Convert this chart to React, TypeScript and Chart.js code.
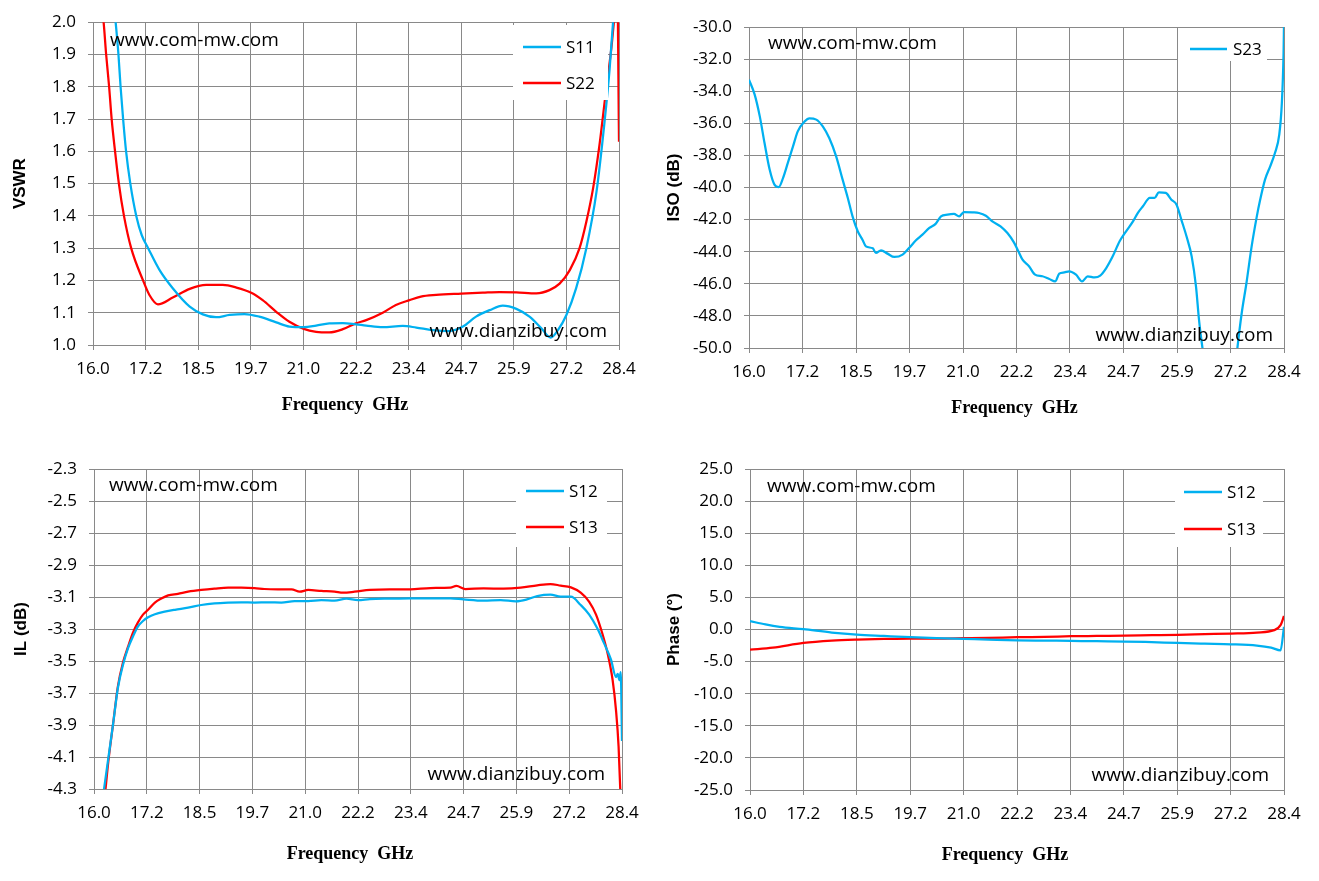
import { useEffect, useRef } from "react";
import { Chart, registerables } from "chart.js";

Chart.register(...registerables);

// Colours
const BLUE = "#00b0f0";
const RED = "#ff0000";
const GRID = "#898989";

const TICK_FONT = { family: "'Open Sans', 'Noto Sans', sans-serif", size: 17 };
const Y_TITLE_FONT = { family: "'Liberation Sans', Arial, sans-serif", size: 17, weight: "bold" as const };
const X_TITLE_FONT = "bold 18px 'Liberation Serif', 'DejaVu Serif', serif";
const MARK_FONT = "19px 'Open Sans', 'Noto Sans', sans-serif";
const LEGEND_FONT = "17px 'Open Sans', 'Noto Sans', sans-serif";

// Shared frequency axis (GHz): 16.0 .. 28.4 in ten steps
const X_MIN = 16;
const X_MAX = 28.4;
const X_STEP = 1.24;
const X_TICK_LABELS = ["16.0", "17.2", "18.5", "19.7", "21.0", "22.2", "23.4", "24.7", "25.9", "27.2", "28.4"];
const X_TITLE = "Frequency  GHz";

// ---- VSWR ----
const S11_FREQ = [16.52, 16.6, 16.65, 16.71, 16.78, 16.88, 17.02, 17.15, 17.3, 17.57, 17.88, 18.28, 18.59, 18.9, 19.22, 19.57, 19.92, 20.32, 20.63, 20.97, 21.26, 21.57, 21.89, 22.2, 22.44, 22.83, 23.3, 23.62, 24.01, 24.4, 24.72, 25.03, 25.35, 25.66, 25.98, 26.29, 26.57, 26.79, 26.96, 27.16, 27.39, 27.63, 27.87, 28.06, 28.18, 28.26, 28.3];
const S11_VSWR = [2.02, 1.9, 1.8, 1.7, 1.6, 1.5, 1.4, 1.34, 1.3, 1.232, 1.176, 1.119, 1.095, 1.086, 1.093, 1.096, 1.088, 1.07, 1.057, 1.055, 1.06, 1.067, 1.068, 1.064, 1.06, 1.055, 1.059, 1.054, 1.046, 1.043, 1.057, 1.088, 1.108, 1.122, 1.112, 1.088, 1.052, 1.023, 1.046, 1.093, 1.176, 1.3, 1.475, 1.692, 1.857, 2.0, 2.08];

const S22_FREQ = [16.22, 16.25, 16.31, 16.38, 16.44, 16.52, 16.61, 16.73, 16.9, 17.18, 17.33, 17.53, 17.88, 18.28, 18.67, 19.06, 19.38, 19.73, 20.0, 20.32, 20.63, 20.97, 21.26, 21.57, 21.89, 22.2, 22.44, 22.83, 23.14, 23.46, 23.73, 24.09, 24.68, 25.19, 25.58, 25.98, 26.45, 26.76, 27.0, 27.24, 27.47, 27.63, 27.79, 27.94, 28.1, 28.22, 28.28, 28.36, 28.4];
const S22_VSWR = [2.03, 2.0, 1.9, 1.8, 1.7, 1.6, 1.5, 1.4, 1.3, 1.2, 1.155, 1.126, 1.147, 1.174, 1.186, 1.186, 1.178, 1.162, 1.139, 1.103, 1.072, 1.05, 1.041, 1.039, 1.049, 1.067, 1.077, 1.1, 1.124, 1.139, 1.15, 1.155, 1.159, 1.162, 1.164, 1.163, 1.16, 1.17, 1.19, 1.232, 1.3, 1.382, 1.486, 1.62, 1.795, 1.92, 2.0, 2.1, 1.63];

// ---- Isolation ----
const S23_FREQ = [16.0, 16.13, 16.25, 16.36, 16.48, 16.59, 16.69, 16.79, 16.9, 17.02, 17.13, 17.29, 17.4, 17.56, 17.71, 17.86, 18.02, 18.17, 18.29, 18.4, 18.52, 18.63, 18.71, 18.87, 18.94, 19.06, 19.21, 19.37, 19.56, 19.71, 19.87, 20.02, 20.18, 20.33, 20.45, 20.6, 20.75, 20.87, 20.98, 21.18, 21.33, 21.49, 21.64, 21.83, 21.99, 22.14, 22.24, 22.34, 22.49, 22.63, 22.8, 22.96, 23.1, 23.19, 23.31, 23.42, 23.58, 23.72, 23.85, 24.01, 24.14, 24.28, 24.43, 24.59, 24.74, 24.9, 25.01, 25.13, 25.29, 25.4, 25.5, 25.66, 25.79, 25.91, 26.02, 26.14, 26.26, 26.36, 26.43, 26.51, 26.6, 27.25, 27.32, 27.42, 27.53, 27.65, 27.77, 27.84, 27.96, 28.08, 28.19, 28.29, 28.35, 28.39, 28.4];
const S23_ISO = [-33.28, -34.2, -35.57, -37.23, -38.9, -39.82, -39.97, -39.4, -38.47, -37.44, -36.5, -35.88, -35.69, -35.77, -36.19, -36.92, -38.06, -39.51, -40.65, -41.8, -42.73, -43.25, -43.67, -43.79, -44.08, -43.91, -44.12, -44.33, -44.18, -43.77, -43.29, -42.94, -42.52, -42.25, -41.8, -41.69, -41.65, -41.8, -41.53, -41.55, -41.59, -41.76, -42.11, -42.42, -42.84, -43.42, -43.95, -44.5, -44.91, -45.43, -45.53, -45.7, -45.85, -45.37, -45.29, -45.22, -45.43, -45.85, -45.53, -45.6, -45.49, -45.02, -44.29, -43.35, -42.73, -42.11, -41.59, -41.17, -40.65, -40.65, -40.3, -40.34, -40.76, -41.07, -42.0, -43.04, -44.29, -46.16, -48.24, -50.0, -51.8, -51.8, -50.0, -47.82, -45.95, -43.67, -41.8, -40.86, -39.51, -38.68, -37.85, -36.71, -34.74, -31.62, -29.8];

// ---- Insertion loss ----
const IL_S12_FREQ = [16.22, 16.33, 16.45, 16.56, 16.68, 16.8, 16.92, 17.03, 17.15, 17.27, 17.43, 17.66, 17.9, 18.21, 18.52, 18.83, 19.15, 19.46, 19.77, 20.09, 20.4, 20.71, 21.03, 21.34, 21.65, 21.93, 22.2, 22.48, 22.95, 23.43, 23.9, 24.37, 24.68, 25.15, 25.55, 25.91, 26.17, 26.41, 26.72, 26.96, 27.2, 27.43, 27.63, 27.82, 27.98, 28.14, 28.26, 28.3, 28.34, 28.37, 28.4];
const IL_S12 = [-4.33, -4.12, -3.89, -3.67, -3.525, -3.42, -3.344, -3.285, -3.25, -3.227, -3.208, -3.192, -3.18, -3.167, -3.15, -3.14, -3.135, -3.133, -3.135, -3.133, -3.135, -3.125, -3.125, -3.119, -3.123, -3.11, -3.119, -3.113, -3.11, -3.108, -3.108, -3.108, -3.115, -3.123, -3.119, -3.127, -3.115, -3.094, -3.085, -3.098, -3.098, -3.15, -3.21, -3.296, -3.39, -3.49, -3.6, -3.58, -3.62, -3.57, -4.0];

const IL_S13_FREQ = [16.26, 16.34, 16.45, 16.56, 16.68, 16.8, 16.92, 17.03, 17.15, 17.27, 17.43, 17.58, 17.74, 17.97, 18.21, 18.52, 18.83, 19.15, 19.46, 19.77, 20.0, 20.32, 20.64, 20.83, 21.03, 21.34, 21.65, 21.85, 22.12, 22.48, 22.95, 23.43, 23.9, 24.37, 24.51, 24.72, 25.15, 25.62, 26.02, 26.41, 26.72, 26.96, 27.2, 27.43, 27.63, 27.79, 27.94, 28.06, 28.18, 28.26, 28.32, 28.36, 28.38];
const IL_S13 = [-4.33, -4.12, -3.89, -3.66, -3.51, -3.41, -3.32, -3.26, -3.21, -3.18, -3.135, -3.11, -3.09, -3.08, -3.067, -3.056, -3.048, -3.042, -3.042, -3.044, -3.05, -3.052, -3.052, -3.067, -3.056, -3.062, -3.067, -3.073, -3.067, -3.056, -3.052, -3.052, -3.044, -3.042, -3.031, -3.05, -3.046, -3.048, -3.042, -3.027, -3.019, -3.029, -3.04, -3.073, -3.13, -3.21, -3.33, -3.45, -3.62, -3.81, -4.035, -4.306, -4.5];

// ---- Phase ----
const PH_S12_FREQ = [16.0, 16.36, 16.69, 17.24, 17.9, 18.48, 19.11, 19.73, 20.33, 20.97, 21.54, 22.21, 22.84, 23.46, 24.05, 24.7, 25.18, 25.93, 26.56, 27.17, 27.77, 28.1, 28.32, 28.4];
const PH_S12 = [1.31, 0.79, 0.42, 0.05, -0.47, -0.79, -1.0, -1.2, -1.36, -1.47, -1.57, -1.68, -1.73, -1.78, -1.83, -1.88, -1.94, -2.09, -2.2, -2.3, -2.51, -2.83, -3.25, 0.42];

const PH_S13_FREQ = [16.0, 16.53, 17.24, 17.9, 18.48, 19.11, 19.73, 20.33, 20.97, 21.54, 22.21, 22.84, 23.46, 24.05, 24.7, 25.34, 25.93, 26.56, 27.17, 27.77, 28.17, 28.32, 28.4];
const PH_S13 = [-3.14, -2.83, -2.09, -1.73, -1.57, -1.47, -1.41, -1.41, -1.36, -1.31, -1.2, -1.15, -1.05, -1.0, -0.94, -0.89, -0.84, -0.73, -0.63, -0.47, -0.1, 0.68, 2.1];

interface Series { label: string; color: string; freq: number[]; values: number[] }

interface PanelSpec {
  left: number; top: number; height: number;
  padTop: number; padRight: number; yAxisW: number; xAxisH: number;
  yTitlePad: number;
  xTitle: [number, number]; // x offset from plot centre, y in canvas
  yMin: number; yMax: number; yStep: number; yTitle: string;
  series: Series[];
  legendBox: [number, number, number, number];
  legendLine: [number, number];
  legendText: number;
  legendRows: number[];
  markTop: [number, number];    // offset from chartArea left / top
  markBottom: [number, number]; // offset from chartArea right / bottom
}

const PANELS: PanelSpec[] = [
  {
    left: 0, top: 0, height: 440,
    padTop: 22, padRight: 40, yAxisW: 93, xAxisH: 95, yTitlePad: 10, xTitle: [-11, 405],
    yMin: 1.0, yMax: 2.0, yStep: 0.1, yTitle: "VSWR",
    series: [
      { label: "S11", color: BLUE, freq: S11_FREQ, values: S11_VSWR },
      { label: "S22", color: RED, freq: S22_FREQ, values: S22_VSWR },
    ],
    legendBox: [513, 25, 608, 100], legendLine: [523, 561], legendText: 566, legendRows: [47, 83],
    markTop: [17, 23.5], markBottom: [12, 8],
  },
  {
    left: 659, top: 0, height: 440,
    padTop: 27, padRight: 34, yAxisW: 90, xAxisH: 92, yTitlePad: 5, xTitle: [-2, 408],
    yMin: -50, yMax: -30, yStep: 2, yTitle: "ISO (dB)",
    series: [{ label: "S23", color: BLUE, freq: S23_FREQ, values: S23_ISO }],
    legendBox: [519, 28, 608, 61], legendLine: [531, 568], legendText: 574, legendRows: [49],
    markTop: [19, 22], markBottom: [11, 7],
  },
  {
    left: 0, top: 440, height: 441,
    padTop: 29, padRight: 37, yAxisW: 94, xAxisH: 92, yTitlePad: 11, xTitle: [-8, 414],
    yMin: -4.3, yMax: -2.3, yStep: 0.2, yTitle: "IL (dB)",
    series: [
      { label: "S12", color: BLUE, freq: IL_S12_FREQ, values: IL_S12 },
      { label: "S13", color: RED, freq: IL_S13_FREQ, values: IL_S13 },
    ],
    legendBox: [516, 30, 607, 107], legendLine: [526, 564], legendText: 569, legendRows: [51, 87],
    markTop: [15, 22], markBottom: [17, 9],
  },
  {
    left: 659, top: 440, height: 441,
    padTop: 29, padRight: 34, yAxisW: 91, xAxisH: 91, yTitlePad: 5, xTitle: [-12, 415],
    yMin: -25, yMax: 25, yStep: 5, yTitle: "Phase (°)",
    series: [
      { label: "S12", color: BLUE, freq: PH_S12_FREQ, values: PH_S12 },
      { label: "S13", color: RED, freq: PH_S13_FREQ, values: PH_S13 },
    ],
    legendBox: [516, 30, 604, 107], legendLine: [525, 563], legendText: 568, legendRows: [52, 89],
    markTop: [17, 23], markBottom: [15, 9],
  },
];

// Watermarks, x title and the in-plot legend box
function overlayPlugin(p: PanelSpec) {
  return {
    id: "overlay",
    afterDatasetsDraw(chart: Chart) {
      const { ctx, chartArea: a } = chart;
      ctx.save();
      ctx.fillStyle = "#000";
      ctx.font = MARK_FONT;
      ctx.textBaseline = "alphabetic";
      ctx.textAlign = "left";
      ctx.fillText("www.com-mw.com", a.left + p.markTop[0], a.top + p.markTop[1]);
      ctx.textAlign = "right";
      ctx.fillText("www.dianzibuy.com", a.right - p.markBottom[0], a.bottom - p.markBottom[1]);

      // x axis title, sitting a little off the plot centre as in the source
      ctx.font = X_TITLE_FONT;
      ctx.textAlign = "center";
      ctx.textBaseline = "middle";
      ctx.fillText(X_TITLE, (a.left + a.right) / 2 + p.xTitle[0], p.xTitle[1]);

      const [x0, y0, x1, y1] = p.legendBox;
      ctx.fillStyle = "#fff";
      ctx.fillRect(x0, y0, x1 - x0, y1 - y0);
      ctx.font = LEGEND_FONT;
      ctx.textAlign = "left";
      ctx.textBaseline = "middle";
      p.series.forEach((s, i) => {
        const y = p.legendRows[i];
        ctx.strokeStyle = s.color;
        ctx.lineWidth = 2.5;
        ctx.beginPath();
        ctx.moveTo(p.legendLine[0], y);
        ctx.lineTo(p.legendLine[1], y);
        ctx.stroke();
        ctx.fillStyle = "#000";
        ctx.fillText(s.label, p.legendText, y + 1);
      });
      ctx.restore();
    },
  };
}

function buildConfig(p: PanelSpec): any {
  return {
    type: "line",
    data: {
      datasets: p.series.map((s) => ({
        label: s.label,
        data: s.freq.map((x, i) => ({ x, y: s.values[i] })),
        borderColor: s.color,
        backgroundColor: s.color,
        borderWidth: 2.25,
        pointRadius: 0,
        cubicInterpolationMode: "monotone",
        fill: false,
      })),
    },
    options: {
      responsive: true,
      maintainAspectRatio: false,
      animation: false,
      layout: { padding: { top: p.padTop, right: p.padRight, left: 0, bottom: 0 } },
      plugins: { legend: { display: false }, tooltip: { enabled: false } },
      scales: {
        x: {
          type: "linear",
          min: X_MIN,
          max: X_MAX,
          ticks: {
            stepSize: X_STEP,
            autoSkip: false,
            maxRotation: 0,
            color: "#000",
            font: TICK_FONT,
            padding: 9,
            callback: (_v: number, i: number) => X_TICK_LABELS[i] ?? "",
          },
          grid: { color: GRID, lineWidth: 1, tickLength: 5, tickColor: GRID },
          border: { color: GRID, width: 1 },
          afterFit: (s: any) => { s.height = p.xAxisH; },
        },
        y: {
          type: "linear",
          min: p.yMin,
          max: p.yMax,
          ticks: {
            stepSize: p.yStep,
            color: "#000",
            font: TICK_FONT,
            padding: 12,
            callback: (v: number) => Number(v).toFixed(1),
          },
          grid: { color: GRID, lineWidth: 1, tickLength: 5, tickColor: GRID },
          border: { color: GRID, width: 1 },
          title: {
            display: true,
            text: p.yTitle,
            color: "#000",
            font: Y_TITLE_FONT,
            padding: { top: p.yTitlePad, bottom: 0 },
          },
          afterFit: (s: any) => { s.width = p.yAxisW; },
        },
      },
    },
    plugins: [overlayPlugin(p)],
  };
}

function Panel({ spec }: { spec: PanelSpec }) {
  const canvasRef = useRef<HTMLCanvasElement>(null);

  useEffect(() => {
    if (!canvasRef.current) return;
    const chart = new Chart(canvasRef.current, buildConfig(spec));
    return () => chart.destroy();
  }, [spec]);

  return (
    <div style={{ position: "absolute", left: spec.left, top: spec.top, width: 659, height: spec.height }}>
      <canvas ref={canvasRef} />
    </div>
  );
}

export default function App() {
  return (
    <div style={{ position: "absolute", left: 0, top: 0, width: 1319, height: 881, background: "#fff" }}>
      {PANELS.map((p, i) => (
        <Panel key={i} spec={p} />
      ))}
    </div>
  );
}
